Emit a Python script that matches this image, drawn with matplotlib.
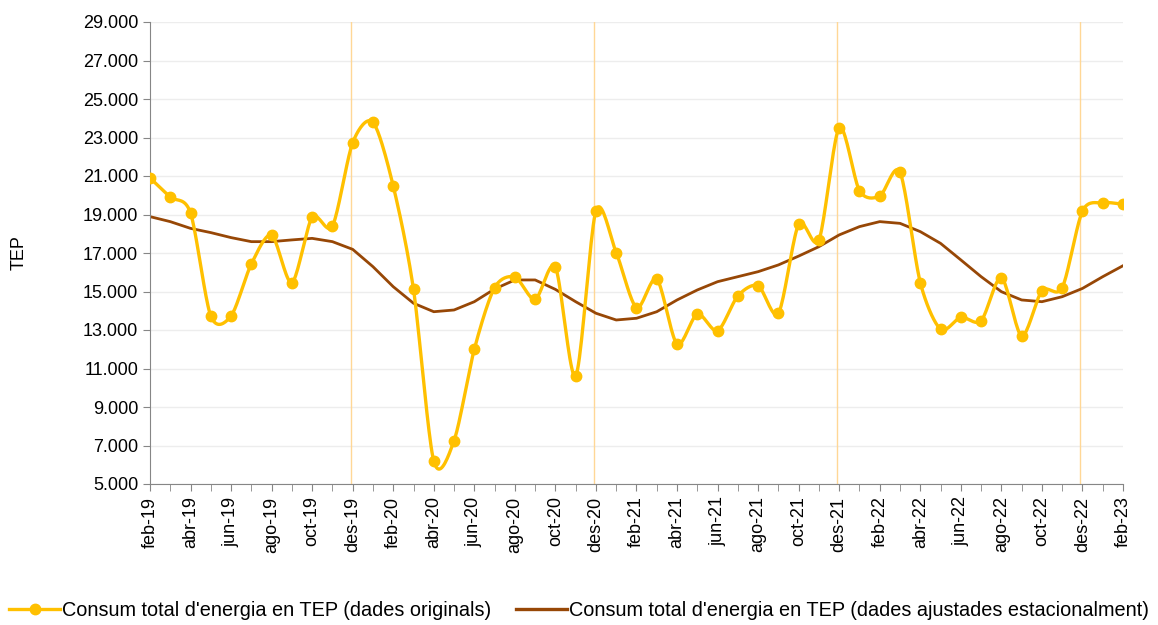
import numpy as np
import matplotlib
matplotlib.use("Agg")
import matplotlib.pyplot as plt
from matplotlib.ticker import FuncFormatter

plt.rcParams['font.family'] = ['Liberation Sans', 'DejaVu Sans']

# month labels feb-19 .. feb-23
mesos = ['gen', 'feb', 'mar', 'abr', 'mai', 'jun', 'jul', 'ago', 'set', 'oct', 'nov', 'des']
labels = []
for k in range(49):
    m = (1 + k) % 12
    y = 19 + (1 + k) // 12
    labels.append('%s-%02d' % (mesos[m], y))

originals = [20900, 19900, 19080, 13730, 13730, 16430, 17930, 15460, 18850, 18400,
             22730, 23790, 20480, 15110, 6195, 7250, 12000, 15200, 15750, 14590,
             16260, 10610, 19200, 17020, 14160, 15650, 12270, 13830, 12960, 14770,
             15300, 13870, 18490, 17680, 23510, 20240, 19960, 21190, 15460, 13040,
             13660, 13480, 15720, 12690, 15040, 15200, 19180, 19610, 19530]

ajustades = [18890, 18630, 18280, 18060, 17800, 17590, 17590, 17680, 17760, 17590,
             17190, 16290, 15250, 14390, 13950, 14040, 14470, 15130, 15600, 15600,
             15110, 14470, 13870, 13520, 13610, 13950, 14560, 15080, 15510, 15770,
             16030, 16380, 16840, 17330, 17940, 18370, 18630, 18540, 18110, 17500,
             16640, 15770, 14990, 14560, 14470, 14730, 15160, 15770, 16340]

serie_orig = "Consum total d'energia en TEP (dades originals)"
serie_aj = "Consum total d'energia en TEP (dades ajustades estacionalment)"


def smooth(x, y, n=20):
    # catmull-rom style curve through the points (like excel "smoothed line")
    x = np.asarray(x, float)
    y = np.asarray(y, float)
    px = np.concatenate([[x[0]], x, [x[-1]]])
    py = np.concatenate([[y[0]], y, [y[-1]]])
    xs, ys = [], []
    t = np.linspace(0, 1, n, endpoint=False)
    for i in range(1, len(px) - 2):
        p0, p1, p2, p3 = py[i - 1], py[i], py[i + 1], py[i + 2]
        q0, q1, q2, q3 = px[i - 1], px[i], px[i + 1], px[i + 2]
        for arr, a0, a1, a2, a3 in ((ys, p0, p1, p2, p3), (xs, q0, q1, q2, q3)):
            m1 = (a2 - a0) / 2 * 0.85
            m2 = (a3 - a1) / 2 * 0.85
            h00 = 2 * t**3 - 3 * t**2 + 1
            h10 = t**3 - 2 * t**2 + t
            h01 = -2 * t**3 + 3 * t**2
            h11 = t**3 - t**2
            arr.extend(h00 * a1 + h10 * m1 + h01 * a2 + h11 * m2)
    xs.append(x[-1])
    ys.append(y[-1])
    return np.array(xs), np.array(ys)


fig = plt.figure(figsize=(11.58, 6.25), dpi=100)
ax = fig.add_axes([0.1295, 0.2256, 0.8403, 0.7392])

xi = np.arange(len(labels))

# vertical marks at each december
for i, lab in enumerate(labels):
    if lab.startswith('des'):
        ax.axvline(i - 0.1, color='#FFD796', lw=1, zorder=1)

sx, sy = smooth(xi, originals)
ax.plot(sx, sy, color='#FFC000', lw=2.4, zorder=3, solid_capstyle='round')
ax.plot(xi, originals, 'o', color='#FFC000', ms=7.5, zorder=4)
ax.plot(xi, ajustades, color='#974706', lw=2.0, zorder=2)

# legend proxies
h1, = ax.plot([], [], '-o', color='#FFC000', lw=2.4, ms=7.5)
h2, = ax.plot([], [], '-', color='#974706', lw=2.4)
fig.legend([h1, h2], [serie_orig, serie_aj], loc='lower center',
           bbox_to_anchor=(0.5, -0.02), ncol=2, frameon=False, fontsize=14.3,
           handlelength=2.6, handletextpad=0.1, columnspacing=1.2)

ax.set_xlim(0, 48)
ax.set_ylim(5000, 29000)
ax.set_yticks(np.arange(5000, 29001, 2000))
ax.yaxis.set_major_formatter(FuncFormatter(lambda v, p: '{:,.0f}'.format(v).replace(',', '.')))
ax.set_xticks(xi[::2])
ax.set_xticklabels(labels[::2], rotation=90)
ax.set_xticks(xi, minor=True)

ax.grid(axis='y', color='#EDEDED', lw=1)
ax.set_axisbelow(True)
for s in ['top', 'right']:
    ax.spines[s].set_visible(False)
for s in ['left', 'bottom']:
    ax.spines[s].set_color('#868686')
ax.tick_params(axis='both', which='both', color='#868686', direction='out', length=5, labelsize=13)
ax.tick_params(axis='x', pad=4)
ax.set_ylabel('TEP', fontsize=13, labelpad=40)

fig.savefig('out.png', dpi=100)
